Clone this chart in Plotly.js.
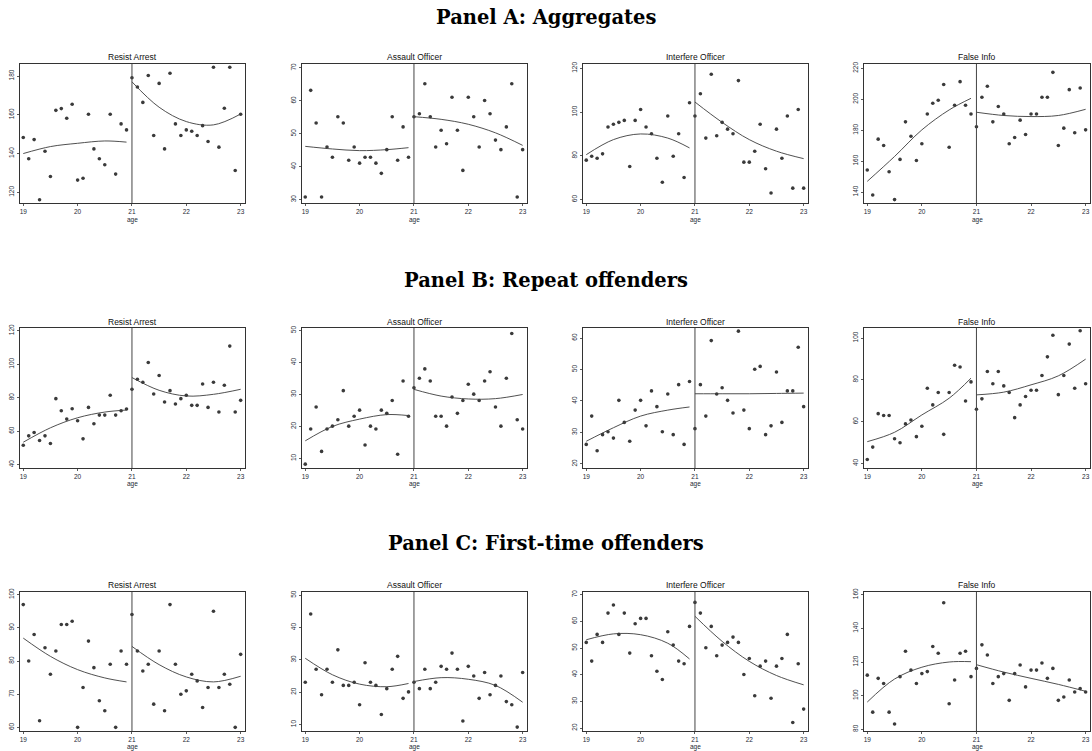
<!DOCTYPE html>
<html>
<head>
<meta charset="utf-8">
<script src="https://cdn.plot.ly/plotly-3.0.1.min.js"></script>
<style>html,body{margin:0;padding:0;background:#fff;}#chart{width:1092px;height:751px;}</style>
</head>
<body>
<div id="chart"></div>
<script>
// ---------- DATA ----------
const ages = [19.0,19.1,19.2,19.3,19.4,19.5,19.6,19.7,19.8,19.9,20.0,20.1,20.2,20.3,20.4,20.5,20.6,20.7,20.8,20.9,
              21.0,21.1,21.2,21.3,21.4,21.5,21.6,21.7,21.8,21.9,22.0,22.1,22.2,22.3,22.4,22.5,22.6,22.7,22.8,22.9,23.0];
const fitXL = [19.0, 19.5, 20.0, 20.5, 20.9];
const fitXR = [21.0, 21.5, 22.0, 22.5, 23.0];
const xTicks = [19, 20, 21, 22, 23];
const rowTitles = ["Panel A: Aggregates", "Panel B: Repeat offenders", "Panel C: First-time offenders"];
const colTitles = ["Resist Arrest", "Assault Officer", "Interfere Officer", "False Info"];
const xLabel = "age";

// Panel A
const aResist = [148.3,137.3,147.2,116.2,141.2,128.2,162.3,163.2,158.2,165.4,126.3,127.3,160.3,142.4,137.3,134.2,160.3,129.4,155.3,152.2,
                 179.1,174.3,166.4,180.3,149.3,176.2,142.4,181.4,155.3,149.3,152.2,151.5,149.3,154.4,146.2,184.5,143.3,163.4,184.5,131.3,160.3];
const aResistFitL = [140.0,143.6,145.3,146.5,145.9];
const aResistFitR = [177.0,163.9,156.5,154.8,160.4];
const aResistTicks = [120,140,160,180];

const aAssault = [30.8,63.2,53.3,30.8,46.0,42.9,55.2,53.3,42.0,46.0,41.1,42.9,42.9,41.1,38.0,45.2,55.2,42.0,52.1,42.9,
                  55.2,56.1,65.2,55.2,46.0,51.1,47.0,61.1,51.1,38.9,61.1,55.2,46.0,60.1,56.1,48.1,45.2,52.1,65.2,30.8,45.2];
const aAssaultFitL = [46.2,45.4,44.9,45.2,45.8];
const aAssaultFitR = [55.2,54.4,52.9,50.3,46.5];
const aAssaultTicks = [30,40,50,60,70];

const aInterfere = [78.0,79.8,78.9,80.9,93.2,94.4,95.3,96.2,75.1,96.2,101.2,93.2,90.1,78.9,67.9,98.2,79.8,90.1,70.1,104.3,
                    98.2,108.4,88.1,117.3,89.2,95.3,92.2,90.1,114.4,77.1,77.1,82.1,94.4,74.1,63.0,92.2,78.9,98.2,65.2,101.2,65.2];
const aInterfereFitL = [80.5,87.4,90.0,88.1,83.6];
const aInterfereFitR = [104.6,95.3,87.4,82.1,78.7];
const aInterfereTicks = [60,80,100,120];

const aFalse = [154.2,138.1,174.2,170.1,153.1,135.1,161.1,185.4,176.1,160.4,171.2,190.5,197.4,199.4,209.5,169.0,196.1,211.4,196.1,190.5,
                182.2,201.3,208.4,185.4,195.3,190.5,171.2,175.3,186.5,177.2,190.5,190.5,201.3,201.3,217.4,170.1,181.3,206.2,178.3,207.3,180.2];
const aFalseFitL = [146.9,163.0,180.2,193.1,200.6];
const aFalseFitR = [191.6,189.5,188.8,189.5,193.5];
const aFalseTicks = [140,160,180,200,220];

// Panel B
const bResist = [51.6,57.2,59.2,54.4,57.2,52.6,79.4,72.2,67.2,73.4,66.2,55.4,74.2,64.4,69.6,69.6,81.4,69.6,72.2,73.2,
                 85.0,91.0,89.2,101.0,82.2,93.2,77.4,84.2,76.2,79.4,81.4,75.4,75.4,88.2,74.2,89.2,71.4,87.4,110.8,71.4,78.4];
const bResistFitL = [53.4,62.0,68.0,71.4,72.6];
const bResistFitR = [92.0,84.4,81.0,82.0,85.0];
const bResistTicks = [40,60,80,100,120];

const bAssault = [8.2,19.2,26.1,12.2,19.2,20.1,22.1,31.2,20.1,23.2,25.1,14.2,20.1,19.2,25.1,24.1,28.1,11.3,34.2,23.2,
                  32.1,35.1,38.0,34.2,23.2,23.2,20.1,29.2,24.1,28.1,33.2,30.1,28.1,34.2,37.1,26.1,20.1,35.1,49.1,22.1,19.2];
const bAssaultFitL = [15.5,20.0,22.3,23.7,23.4];
const bAssaultFitR = [31.6,29.5,28.6,28.7,30.0];
const bAssaultTicks = [10,20,30,40,50];

const bInterfere = [26.2,35.2,24.2,29.3,30.2,28.2,40.2,33.2,27.2,37.1,40.2,32.1,43.2,38.2,30.2,42.2,29.3,45.2,26.2,46.2,
                    31.2,45.2,35.2,59.2,42.2,44.2,40.2,36.2,62.2,37.1,31.2,50.1,51.0,29.3,32.1,49.2,33.2,43.2,43.2,57.1,38.2];
const bInterfereFitL = [27.2,31.5,35.2,37.1,38.1];
const bInterfereFitR = [42.3,42.3,42.3,42.4,42.5];
const bInterfereTicks = [20,30,40,50,60];

const bFalse = [41.9,47.8,63.8,62.9,62.9,51.8,49.9,58.9,60.8,52.8,57.8,76.0,68.0,73.9,53.9,73.9,87.0,86.1,69.9,79.0,
                65.9,70.9,84.0,78.1,84.0,77.1,73.9,61.9,68.0,72.0,75.0,75.0,82.1,91.0,101.3,72.9,82.1,97.1,76.0,103.5,78.1];
const bFalseFitL = [50.4,54.9,63.2,71.2,80.8];
const bFalseFitR = [72.8,74.1,77.6,81.9,89.9];
const bFalseTicks = [40,60,80,100];

// Panel C
const cResist = [97,80,88,62,84,76,83,91,91,92,60,72,86,78,68,65,79,60,83,79,
                 94,83,77,79,67,83,65,97,79,70,71,76,74,66,72,95,72,76,73,60,82];
const cResistFitL = [86.9,81.4,77.4,74.9,73.7];
const cResistFitR = [84.4,78.9,75.2,73.7,75.4];
const cResistTicks = [60,70,80,90,100];

const cAssault = [23.1,44.2,27.1,19.2,27.1,23.1,33.1,22.1,22.1,23.1,16.1,29.1,23.1,22.1,13.1,21.1,27.1,31.1,18.1,20.1,
                  23.1,21.1,27.1,21.1,23.1,28.0,27.1,32.1,27.1,11.1,28.0,25.0,18.1,26.1,19.2,22.1,25.0,17.1,16.1,9.2,26.1];
const cAssaultFitL = [30.5,25.4,22.5,21.7,22.7];
const cAssaultFitR = [23.3,24.5,24.0,22.1,16.9];
const cAssaultTicks = [10,20,30,40,50];

const cInterfere = [52.1,45.1,55.1,52.1,63.1,66.1,55.1,63.1,48.1,59.1,61.1,61.1,47.1,41.3,38.2,56.1,51.1,45.1,44.1,58.1,
                    67.1,63.1,50.1,58.1,47.1,51.1,52.1,54.1,52.1,40.1,46.1,32.1,43.2,45.1,31.2,43.2,46.1,55.1,22.1,44.1,27.1];
const cInterfereFitL = [53.1,55.3,55.0,51.8,45.9];
const cInterfereFitR = [61.9,52.5,45.0,39.7,36.2];
const cInterfereTicks = [20,30,40,50,60,70];

const cFalse = [112.2,90.2,110.3,107.2,90.2,83.2,111.3,126.4,115.2,107.2,113.1,114.3,129.2,125.2,155.2,95.2,109.3,125.2,126.4,111.3,
                116.2,130.2,124.2,107.2,111.3,113.1,97.2,113.1,118.2,105.2,115.2,115.2,119.4,110.3,116.2,97.2,99.2,109.3,102.2,104.2,102.2];
const cFalseFitL = [96.2,109.9,116.9,120.0,120.2];
const cFalseFitR = [118.4,114.0,110.3,106.7,102.6];
const cFalseTicks = [80,100,120,140,160];

// ---------- LAYOUT GEOMETRY (pixels) ----------
const W = 1092, H = 751;
const colPx = [[20,245],[302,527],[583,808],[864,1090]];
const rowPx = [[64,203],[328,468],[592,731]];
const rowTitleY = [17, 280, 543];
const colTitleY = [57, 322, 585];
const ageLabelY = [219.5, 484.5, 747];
const xRange = [18.94, 23.08];

const panels = [
  {y:aResist,   fl:aResistFitL,   fr:aResistFitR,   t:aResistTicks,   r:[114.5,186.2]},
  {y:aAssault,  fl:aAssaultFitL,  fr:aAssaultFitR,  t:aAssaultTicks,  r:[29.0,71.2]},
  {y:aInterfere,fl:aInterfereFitL,fr:aInterfereFitR,t:aInterfereTicks,r:[58.4,122.0]},
  {y:aFalse,    fl:aFalseFitL,    fr:aFalseFitR,    t:aFalseTicks,    r:[132.9,222.8]},
  {y:bResist,   fl:bResistFitL,   fr:bResistFitR,   t:bResistTicks,   r:[38.0,121.6]},
  {y:bAssault,  fl:bAssaultFitL,  fr:bAssaultFitR,  t:bAssaultTicks,  r:[7.0,50.8]},
  {y:bInterfere,fl:bInterfereFitL,fr:bInterfereFitR,t:bInterfereTicks,r:[18.7,63.2]},
  {y:bFalse,    fl:bFalseFitL,    fr:bFalseFitR,    t:bFalseTicks,    r:[37.8,104.8]},
  {y:cResist,   fl:cResistFitL,   fr:cResistFitR,   t:cResistTicks,   r:[58.9,100.8]},
  {y:cAssault,  fl:cAssaultFitL,  fr:cAssaultFitR,  t:cAssaultTicks,  r:[8.0,51.0]},
  {y:cInterfere,fl:cInterfereFitL,fr:cInterfereFitR,t:cInterfereTicks,r:[18.9,71.0]},
  {y:cFalse,    fl:cFalseFitL,    fr:cFalseFitR,    t:cFalseTicks,    r:[79.0,161.6]}
];

const traces = [];
const layout = {
  width: W, height: H,
  margin: {l:0, r:0, t:0, b:0},
  paper_bgcolor: '#ffffff',
  plot_bgcolor: '#ffffff',
  showlegend: false,
  annotations: [],
  shapes: []
};

const tickFont = {family: 'Liberation Sans, Arial, sans-serif', size: 6.5, color: '#1e2a36'};
const markerColor = '#3a3a3a';
const lineColor = '#3c3c3c';

panels.forEach((p, i) => {
  const row = Math.floor(i / 4), col = i % 4;
  const n = i + 1;
  const xa = n === 1 ? 'x' : 'x' + n;
  const ya = n === 1 ? 'y' : 'y' + n;
  const xKey = n === 1 ? 'xaxis' : 'xaxis' + n;
  const yKey = n === 1 ? 'yaxis' : 'yaxis' + n;
  const cx = colPx[col], ry = rowPx[row];

  layout[xKey] = {
    domain: [cx[0] / W, cx[1] / W],
    anchor: ya,
    range: xRange,
    tickvals: xTicks,
    ticktext: xTicks.map(String),
    ticks: 'outside', ticklen: 2, tickwidth: 0.8, tickcolor: '#333',
    showline: true, linecolor: '#333', linewidth: 1, mirror: true,
    showgrid: false, zeroline: false,
    tickfont: tickFont,
    fixedrange: true
  };
  layout[yKey] = {
    domain: [1 - ry[1] / H, 1 - ry[0] / H],
    anchor: xa,
    range: p.r,
    tickvals: p.t,
    ticktext: p.t.map(String),
    tickangle: -90,
    ticks: 'outside', ticklen: 2, tickwidth: 0.8, tickcolor: '#333',
    showline: true, linecolor: '#333', linewidth: 1, mirror: true,
    showgrid: false, zeroline: false,
    tickfont: tickFont,
    fixedrange: true
  };

  traces.push({
    type: 'scatter', mode: 'markers', xaxis: xa, yaxis: ya,
    x: ages, y: p.y,
    marker: {symbol: 'circle', size: 3.6, color: markerColor},
    hoverinfo: 'x+y'
  });
  traces.push({
    type: 'scatter', mode: 'lines', xaxis: xa, yaxis: ya,
    x: fitXL, y: p.fl,
    line: {color: lineColor, width: 0.9, shape: 'spline', smoothing: 1},
    hoverinfo: 'skip'
  });
  traces.push({
    type: 'scatter', mode: 'lines', xaxis: xa, yaxis: ya,
    x: fitXR, y: p.fr,
    line: {color: lineColor, width: 0.9, shape: 'spline', smoothing: 1},
    hoverinfo: 'skip'
  });

  layout.shapes.push({
    type: 'line', xref: xa, yref: ya + ' domain',
    x0: 21, x1: 21, y0: 0, y1: 1,
    line: {color: '#444', width: 1}
  });

  layout.annotations.push({
    xref: 'paper', yref: 'paper',
    x: ((cx[0] + cx[1]) / 2) / W, y: 1 - colTitleY[row] / H,
    text: colTitles[col], showarrow: false,
    xanchor: 'center', yanchor: 'middle',
    font: {family: 'Liberation Sans, Arial, sans-serif', size: 8.5, color: '#111'}
  });
  layout.annotations.push({
    xref: 'paper', yref: 'paper',
    x: ((cx[0] + cx[1]) / 2) / W, y: 1 - ageLabelY[row] / H,
    text: xLabel, showarrow: false,
    xanchor: 'center', yanchor: 'middle',
    font: {family: 'Liberation Sans, Arial, sans-serif', size: 6.5, color: '#1e2a36'}
  });
});

rowTitles.forEach((t, r) => {
  layout.annotations.push({
    xref: 'paper', yref: 'paper',
    x: 0.5, y: 1 - rowTitleY[r] / H,
    text: '<b>' + t + '</b>', showarrow: false,
    xanchor: 'center', yanchor: 'middle',
    font: {family: 'DejaVu Serif, serif', size: 19.5, color: '#000'}
  });
});

Plotly.newPlot('chart', traces, layout, {displayModeBar: false, staticPlot: true});
</script>
</body>
</html>
